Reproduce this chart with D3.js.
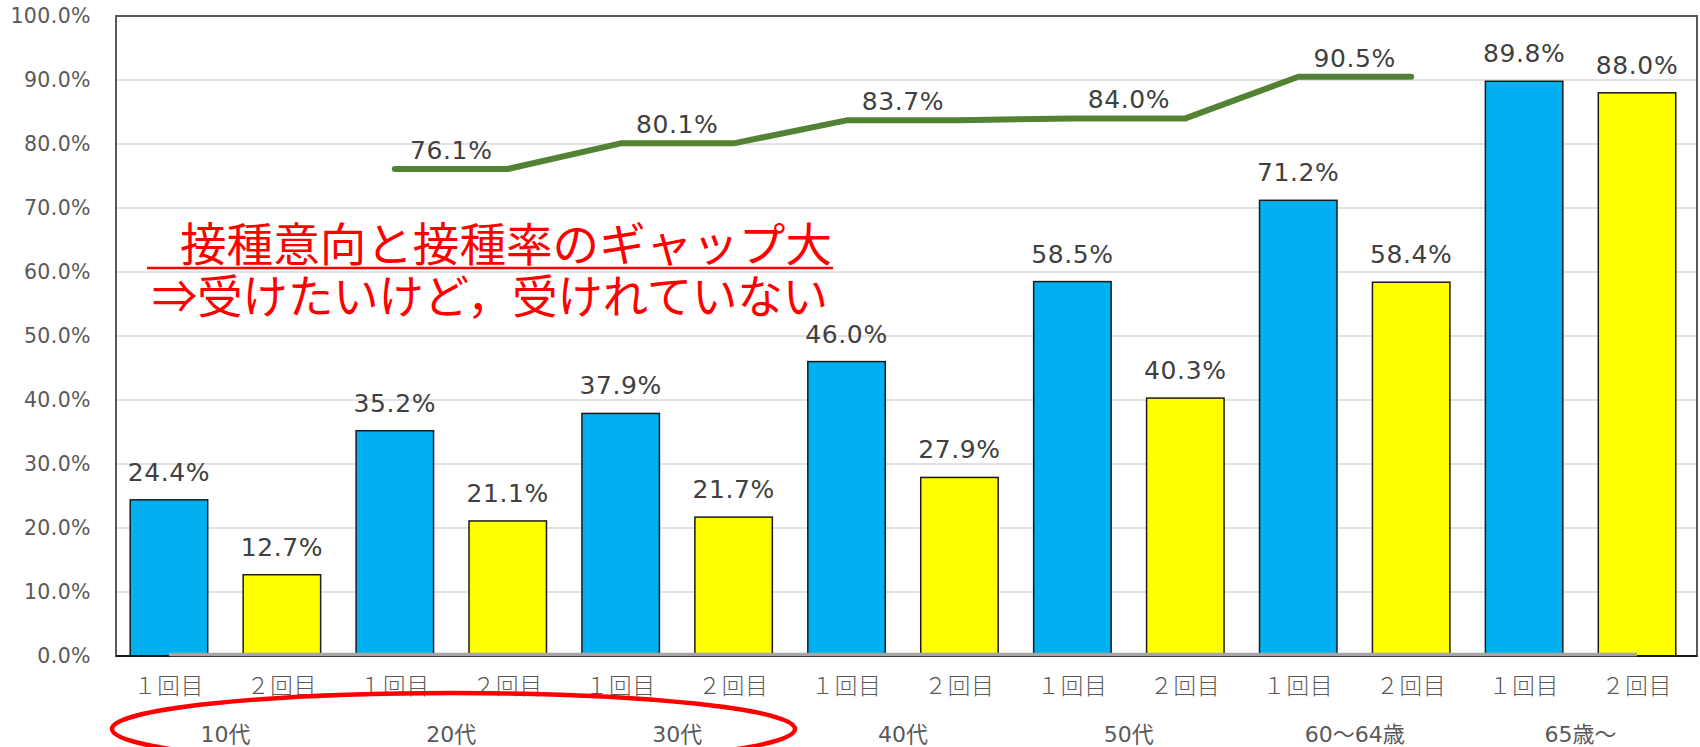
<!DOCTYPE html>
<html>
<head>
<meta charset="utf-8">
<script src="https://cdn.jsdelivr.net/npm/d3@7"></script>
<style>
  body { margin: 0; background: #fff; }
  svg { display: block; }
</style>
</head>
<body>
<div id="chart"></div>
<script>
// age groups, two bars (1st / 2nd dose) per group
var groups = ["10代", "20代", "30代", "40代", "50代", "60～64歳", "65歳～"];
var doses = ["１回目", "２回目"];
var dose1 = [24.4, 35.2, 37.9, 46.0, 58.5, 71.2, 89.8];
var dose2 = [12.7, 21.1, 21.7, 27.9, 40.3, 58.4, 88.0];
// vaccination intention (green line), none for 10代 and 65歳～
var intention = [null, 76.1, 80.1, 83.7, 84.0, 90.5, null];
var yTicks = [0, 10, 20, 30, 40, 50, 60, 70, 80, 90, 100];
var note = ["接種意向と接種率のギャップ大", "⇒受けたいけど，受けれていない"];

var width = 1700, height = 747;
var frame = { left: 116, top: 16, right: 1697, bottom: 656 };

var bars = [];
groups.forEach(function (g, gi) {
  bars.push({ key: g + "_1", group: gi, dose: 0, value: dose1[gi] });
  bars.push({ key: g + "_2", group: gi, dose: 1, value: dose2[gi] });
});

var svg = d3.select("#chart").append("svg")
  .attr("width", width)
  .attr("height", height);

var x = d3.scaleBand()
  .domain(bars.map(function (d) { return d.key; }))
  .range([112.5, 1693.5])
  .paddingInner(0.314)
  .paddingOuter(0.157);

var y = d3.scaleLinear()
  .domain([0, 100])
  .range([frame.bottom, frame.top]);

function cx(d) { return x(d.key) + x.bandwidth() / 2; }

// gridlines
svg.append("g").selectAll("line")
  .data(yTicks.filter(function (t) { return t > 0 && t < 100; }))
  .enter().append("line")
  .attr("x1", frame.left).attr("x2", frame.right)
  .attr("y1", function (d) { return y(d); })
  .attr("y2", function (d) { return y(d); })
  .attr("stroke", "#d9d9d9")
  .attr("stroke-width", 1.5);

// y axis labels
var yAxis = d3.axisLeft(y)
  .tickValues(yTicks)
  .tickSize(0)
  .tickPadding(0)
  .tickFormat(function (d) { return d.toFixed(1) + "%"; });

var yg = svg.append("g")
  .attr("transform", "translate(91,0)")
  .call(yAxis);
yg.select(".domain").remove();
yg.selectAll("text")
  .attr("font-family", "DejaVu Sans")
  .attr("font-size", 20.5)
  .attr("letter-spacing", 0.4)
  .attr("fill", "#595959");

// bars
svg.append("g").selectAll("rect")
  .data(bars)
  .enter().append("rect")
  .attr("x", function (d) { return x(d.key); })
  .attr("y", function (d) { return y(d.value); })
  .attr("width", x.bandwidth())
  .attr("height", function (d) { return y(0) - y(d.value); })
  .attr("fill", function (d) { return d.dose === 0 ? "#00b0f0" : "#ffff00"; })
  .attr("stroke", "#1a1a1a")
  .attr("stroke-width", 1.5);

// plot frame
svg.append("rect")
  .attr("x", frame.left).attr("y", frame.top)
  .attr("width", frame.right - frame.left)
  .attr("height", frame.bottom - frame.top)
  .attr("fill", "none")
  .attr("stroke", "#595959")
  .attr("stroke-width", 2);
svg.append("line")
  .attr("x1", frame.left).attr("x2", frame.right)
  .attr("y1", y(0)).attr("y2", y(0))
  .attr("stroke", "#000")
  .attr("stroke-width", 1.5);

// grey zero line series across all bars
var line = d3.line()
  .x(function (d) { return cx(d); })
  .y(function (d) { return y(d.v); });

svg.append("path")
  .datum([{ key: bars[0].key, v: 0 }, { key: bars[bars.length - 1].key, v: 0 }])
  .attr("d", line)
  .attr("fill", "none")
  .attr("stroke", "#a6a6a6")
  .attr("stroke-width", 3.5)
  .attr("transform", "translate(0,-1.5)");

// intention line: flat across both bars of each group
var linePts = [];
bars.forEach(function (b) {
  if (intention[b.group] != null) linePts.push({ key: b.key, v: intention[b.group] });
});

svg.append("path")
  .datum(linePts)
  .attr("d", line)
  .attr("fill", "none")
  .attr("stroke", "#548235")
  .attr("stroke-width", 6)
  .attr("stroke-linecap", "round")
  .attr("stroke-linejoin", "round");

// bar value labels
svg.append("g").selectAll("text")
  .data(bars)
  .enter().append("text")
  .attr("x", function (d) { return cx(d); })
  .attr("y", function (d) { return y(d.value) - 19; })
  .attr("text-anchor", "middle")
  .attr("font-family", "DejaVu Sans")
  .attr("font-size", 25)
  .attr("letter-spacing", 0.6)
  .attr("fill", "#404040")
  .text(function (d) { return d.value.toFixed(1) + "%"; });

// intention labels, centred over each group
svg.append("g").selectAll("text")
  .data(groups.map(function (g, i) { return { i: i, v: intention[i] }; })
    .filter(function (d) { return d.v != null; }))
  .enter().append("text")
  .attr("x", function (d) { return x(groups[d.i] + "_2"); })
  .attr("dx", -(x.step() - x.bandwidth()) / 2)
  .attr("y", function (d) { return y(d.v) - 10; })
  .attr("text-anchor", "middle")
  .attr("font-family", "DejaVu Sans")
  .attr("font-size", 25)
  .attr("letter-spacing", 0.6)
  .attr("fill", "#404040")
  .text(function (d) { return d.v.toFixed(1) + "%"; });

// category labels
svg.append("g").selectAll("text")
  .data(bars)
  .enter().append("text")
  .attr("x", function (d) { return cx(d); })
  .attr("y", 694)
  .attr("text-anchor", "middle")
  .attr("font-family", "Noto Sans CJK JP")
  .attr("font-size", 22.5)
  .attr("font-weight", 300)
  .attr("letter-spacing", 1)
  .attr("fill", "#595959")
  .text(function (d) { return doses[d.dose]; });

svg.append("g").selectAll("text")
  .data(groups)
  .enter().append("text")
  .attr("x", function (d) { return x(d + "_2") - (x.step() - x.bandwidth()) / 2; })
  .attr("y", 742)
  .attr("text-anchor", "middle")
  .attr("font-family", "DejaVu Sans, Noto Sans CJK JP")
  .attr("font-size", 22)
  .attr("fill", "#595959")
  .text(function (d) { return d; });

// red ellipse around young age groups
svg.append("ellipse")
  .attr("cx", 453.5).attr("cy", 729)
  .attr("rx", 341.5).attr("ry", 36)
  .attr("fill", "none")
  .attr("stroke", "#ff0000")
  .attr("stroke-width", 4.5);

// annotation
svg.append("text")
  .attr("x", 180).attr("y", 261)
  .attr("font-family", "Noto Sans CJK JP")
  .attr("font-size", 46)
  .attr("textLength", 652)
  .attr("lengthAdjust", "spacingAndGlyphs")
  .attr("fill", "#ff0000")
  .text(note[0]);
svg.append("line")
  .attr("x1", 147).attr("x2", 833)
  .attr("y1", 268).attr("y2", 268)
  .attr("stroke", "#ff0000")
  .attr("stroke-width", 2.5);
svg.append("text")
  .attr("x", 152).attr("y", 313)
  .attr("font-family", "Noto Sans CJK JP")
  .attr("font-size", 46)
  .attr("textLength", 676)
  .attr("lengthAdjust", "spacingAndGlyphs")
  .attr("fill", "#ff0000")
  .text(note[1]);
</script>
</body>
</html>
